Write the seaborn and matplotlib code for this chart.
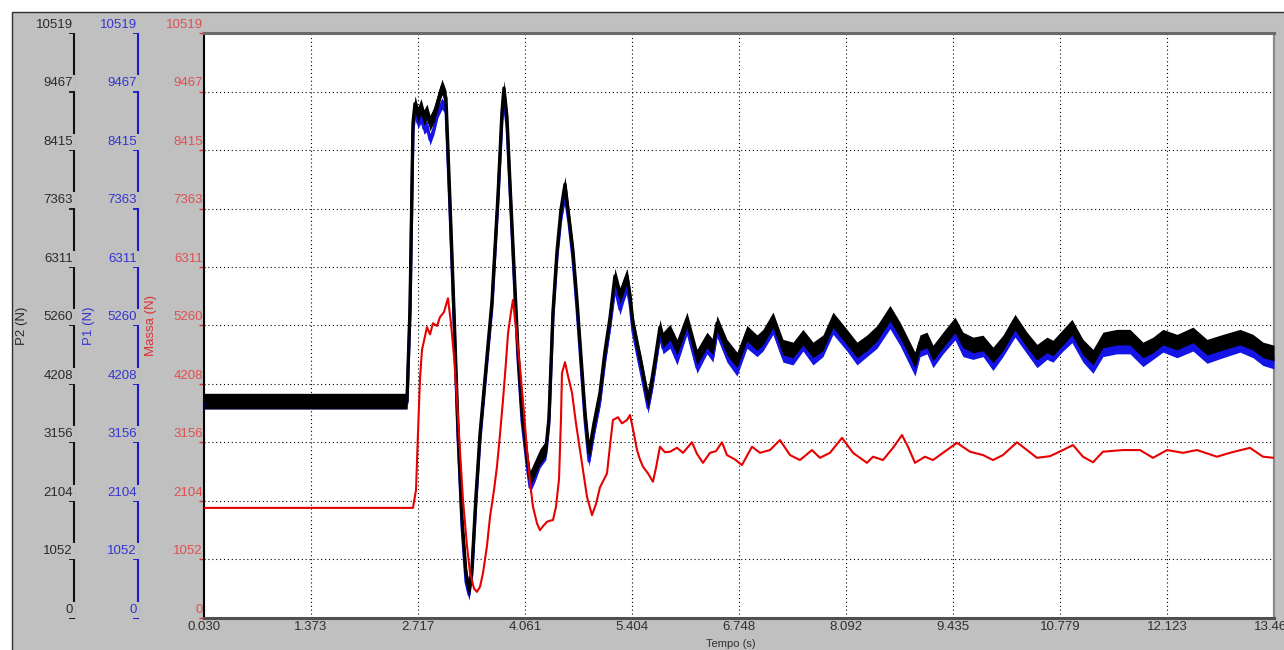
import numpy as np
import matplotlib
matplotlib.use("Agg")
import matplotlib.pyplot as plt
import seaborn as sns
from matplotlib.patches import Rectangle
from matplotlib.transforms import ScaledTranslation
from matplotlib import font_manager

# ---------------- data ----------------
t_p = [0.030, 2.578, 2.616, 2.653, 2.678, 2.716, 2.754, 2.791, 2.829, 2.867,
       2.917, 2.967, 3.017, 3.067, 3.117, 3.168, 3.218, 3.268, 3.318, 3.356,
       3.394, 3.444, 3.494, 3.569, 3.645, 3.720, 3.770, 3.795, 3.833, 3.871,
       3.921, 3.971, 4.021, 4.084, 4.122, 4.184, 4.247, 4.322, 4.360, 4.410,
       4.461, 4.511, 4.561, 4.611, 4.661, 4.712, 4.762, 4.812, 4.862, 4.925,
       5.000, 5.063, 5.126, 5.188, 5.251, 5.301, 5.339, 5.377, 5.414, 5.477,
       5.527, 5.603, 5.653, 5.691, 5.753, 5.791, 5.879, 5.967, 6.092, 6.218,
       6.343, 6.418, 6.469, 6.594, 6.720, 6.845, 6.971, 7.046, 7.172, 7.297,
       7.423, 7.548, 7.674, 7.799, 7.925, 8.100, 8.226, 8.351, 8.477, 8.640,
       8.766, 8.954, 9.017, 9.104, 9.180, 9.305, 9.456, 9.556, 9.682, 9.807,
       9.933, 10.058, 10.209, 10.359, 10.485, 10.610, 10.686, 10.811, 10.924, 11.062,
       11.188, 11.313, 11.489, 11.652, 11.815, 11.941, 12.066, 12.242, 12.443, 12.619,
       12.820, 13.033, 13.196, 13.322, 13.460]

p2 = [3900, 3900, 5600, 8900, 9250, 9050, 9200, 9000, 9100, 8900,
      9050, 9300, 9550, 9350, 7500, 5500, 3400, 1800, 800, 500,
      900, 2200, 3300, 4500, 5700, 7600, 9100, 9530, 9000, 7800,
      6300, 4800, 3700, 2900, 2500, 2700, 2900, 3050, 3600, 5500,
      6600, 7350, 7800, 7200, 6600, 5700, 4700, 3700, 2970, 3500,
      4050, 4800, 5400, 6150, 5800, 6000, 6150, 5800, 5300, 4850,
      4500, 3920, 4300, 4640, 5230, 5000, 5140, 4870, 5360, 4690,
      5000, 4870, 5300, 4870, 4640, 5120, 4950, 5050, 5360, 4870,
      4820, 5050, 4820, 4950, 5360, 5050, 4820, 4950, 5120, 5480,
      5180, 4640, 4950, 5000, 4765, 5000, 5270, 5000, 4910, 4945,
      4730, 4945, 5320, 5000, 4780, 4910, 4855, 5050, 5230, 4870,
      4690, 5000, 5050, 5050, 4820, 4910, 5050, 4960, 5090, 4870,
      4960, 5050, 4960, 4820, 4765]

p1 = [3860, 3860, 5450, 8750, 9100, 8900, 9000, 8800, 8850, 8600,
      8800, 9100, 9250, 9150, 7350, 5350, 3250, 1650, 650, 420,
      800, 2100, 3200, 4400, 5600, 7500, 8950, 9300, 8850, 7700,
      6150, 4650, 3550, 2750, 2350, 2550, 2800, 2950, 3500, 5400,
      6500, 7200, 7600, 7100, 6450, 5550, 4550, 3550, 2820, 3350,
      3900, 4650, 5250, 5950, 5550, 5800, 5950, 5650, 5150, 4700,
      4350, 3780, 4150, 4500, 5100, 4850, 4950, 4650, 5200, 4500,
      4850, 4700, 5150, 4700, 4450, 4950, 4800, 4900, 5200, 4700,
      4650, 4900, 4650, 4800, 5200, 4900, 4650, 4800, 4950, 5300,
      5000, 4450, 4800, 4850, 4600, 4850, 5100, 4800, 4750, 4800,
      4550, 4800, 5150, 4850, 4600, 4750, 4700, 4900, 5050, 4700,
      4500, 4800, 4850, 4850, 4620, 4750, 4880, 4780, 4900, 4680,
      4780, 4880, 4780, 4640, 4580]

ripple_p2 = 140
ripple_p1 = 100

t_m = [0.030, 2.653, 2.691, 2.716, 2.741, 2.766, 2.829, 2.867, 2.904, 2.954,
       2.992, 3.042, 3.092, 3.130, 3.168, 3.205, 3.243, 3.281, 3.331, 3.369,
       3.419, 3.456, 3.494, 3.532, 3.582, 3.620, 3.670, 3.707, 3.745, 3.783,
       3.820, 3.846, 3.883, 3.908, 3.946, 3.996, 4.046, 4.084, 4.122, 4.159,
       4.210, 4.247, 4.285, 4.335, 4.373, 4.410, 4.448, 4.486, 4.511, 4.523,
       4.561, 4.599, 4.649, 4.699, 4.749, 4.799, 4.837, 4.900, 4.950, 5.000,
       5.088, 5.126, 5.163, 5.226, 5.276, 5.339, 5.377, 5.414, 5.465, 5.502,
       5.540, 5.603, 5.665, 5.703, 5.753, 5.816, 5.879, 5.967, 6.042, 6.155,
       6.218, 6.293, 6.381, 6.456, 6.531, 6.594, 6.695, 6.782, 6.908, 7.008,
       7.134, 7.259, 7.385, 7.510, 7.661, 7.761, 7.887, 8.038, 8.176, 8.351,
       8.427, 8.552, 8.678, 8.791, 8.866, 8.954, 9.079, 9.180, 9.305, 9.481,
       9.644, 9.807, 9.933, 10.058, 10.234, 10.485, 10.648, 10.811, 10.937, 11.062,
       11.188, 11.313, 11.564, 11.778, 11.941, 12.117, 12.317, 12.493, 12.744, 12.907,
       13.158, 13.322, 13.460]

massa = [1980, 1980, 2300, 3330, 4300, 4820, 5230, 5100, 5300, 5250,
         5410, 5500, 5750, 5300, 4700, 3920, 3000, 2120, 1300, 810,
         530, 470, 560, 810, 1300, 1820, 2300, 2720, 3300, 3920,
         4600, 5120, 5500, 5720, 5200, 4510, 3700, 3020, 2450, 2000,
         1700, 1580, 1650, 1730, 1750, 1760, 2000, 2500, 3600, 4400,
         4600, 4350, 4050, 3500, 3020, 2550, 2180, 1850, 2050, 2350,
         2600, 3100, 3560, 3610, 3500, 3560, 3650, 3400, 3020, 2850,
         2720, 2600, 2450, 2700, 3080, 2980, 2990, 3060, 2970, 3160,
         2950, 2790, 2970, 3000, 3160, 2930, 2850, 2750, 3080, 2970,
         3020, 3200, 2930, 2840, 3020, 2880, 2970, 3240, 2970, 2790,
         2900, 2840, 3060, 3290, 3080, 2790, 2900, 2840, 2970, 3150,
         2990, 2930, 2840, 2930, 3160, 2880, 2910, 3020, 3110, 2900,
         2800, 2990, 3020, 3020, 2880, 3020, 2970, 3020, 2900, 2970,
         3060, 2900, 2880]

y_ticks = [0, 1052, 2104, 3156, 4208, 5260, 6311, 7363, 8415, 9467, 10519]
x_ticks = [0.030, 1.373, 2.717, 4.061, 5.404, 6.748, 8.092, 9.435, 10.779, 12.123, 13.460]
x_tick_labels = ["0.030", "1.373", "2.717", "4.061", "5.404", "6.748", "8.092",
                 "9.435", "10.779", "12.123", "13.460"]

# ---------------- style ----------------
sns.set_style("white")
avail = {f.name for f in font_manager.fontManager.ttflist}
fams = [f for f in ["Liberation Sans Narrow", "Liberation Sans", "DejaVu Sans"] if f in avail]
plt.rcParams["font.family"] = fams

W, H = 1284, 650
fig = plt.figure(figsize=(W / 100, H / 100), dpi=100, facecolor="white")
fig.patches.append(Rectangle((12 / W, -0.05), 1.2, 1 - 12 / H + 0.05,
                             transform=fig.transFigure, facecolor="#c0c0c0",
                             edgecolor="#303030", linewidth=1.0, zorder=-5))

ax = fig.add_axes([204 / W, 1 - 618 / H, 1070 / W, 585 / H])
ax.set_facecolor("white")
ax_p1 = ax.twinx()
ax_p2 = ax.twinx()

# ---------------- series ----------------
t_p_arr = np.array(t_p)
ax.fill_between(t_p_arr, np.array(p1) - ripple_p1, np.array(p1) + ripple_p1,
                color="#1414e6", linewidth=0, zorder=3)
sns.lineplot(x=t_p, y=p1, ax=ax, color="#1414e6", linewidth=2.2,
             estimator=None, sort=False, zorder=3)
ax.fill_between(t_p_arr, np.array(p2) - ripple_p2, np.array(p2) + ripple_p2,
                color="black", linewidth=0, zorder=4)
sns.lineplot(x=t_p, y=p2, ax=ax, color="black", linewidth=2.4,
             estimator=None, sort=False, zorder=4)
sns.lineplot(x=t_m, y=massa, ax=ax, color="#e80000", linewidth=1.5,
             estimator=None, sort=False, zorder=5)

# ---------------- axes ----------------
fs = 9.5
for a in (ax, ax_p1, ax_p2):
    a.set_ylim(0, 10519)
    a.set_yticks(y_ticks)
    a.set_yticklabels([str(v) for v in y_ticks])
ax.set_xlim(0.030, 13.460)
ax.set_xticks(x_ticks)
ax.set_xticklabels(x_tick_labels)

ax.grid(True, color="black", linestyle=(0, (1, 2.5)), linewidth=0.8)
ax.set_axisbelow(True)

for side, col, lw in (("left", "#000000", 1.5), ("bottom", "#505050", 2.2),
                      ("top", "#6a6a6a", 2.2), ("right", "#8a8a8a", 1.6)):
    ax.spines[side].set_visible(True)
    ax.spines[side].set_color(col)
    ax.spines[side].set_linewidth(lw)

ax.tick_params(axis="x", length=0, pad=2.5, labelsize=fs, labelcolor="#303030")
ax.tick_params(axis="y", left=True, right=False, direction="out", length=3.8,
               width=1.0, color="#e03030", labelcolor="#e05050", labelsize=fs, pad=-3.0)
ax.set_xlabel("Tempo (s)", fontsize=8, color="#303030")
ax.xaxis.set_label_coords((731 - 204) / 1070, -0.036)
ax.set_ylabel("Massa (N)", fontsize=fs, color="#e03030")
ax.yaxis.set_label_coords((157 - 204) / 1070, 0.5)

up = ScaledTranslation(0, 1.5 / 72, fig.dpi_scale_trans)
for lbl in ax.get_yticklabels():
    lbl.set_va("bottom")
    lbl.set_transform(lbl.get_transform() + up)

for a, col, lcol, off, name, lx in ((ax_p1, "#1a1acc", "#3535d0", 66, "P1 (N)", 95),
                                   (ax_p2, "#111111", "#2a2a2a", 130, "P2 (N)", 28)):
    a.grid(False)
    a.patch.set_visible(False)
    for s in ("top", "right", "bottom"):
        a.spines[s].set_visible(False)
    a.yaxis.set_ticks_position("left")
    a.yaxis.set_label_position("left")
    a.spines["left"].set_visible(True)
    a.spines["left"].set_position(("outward", off * 72 / 100))
    a.spines["left"].set_color(col)
    a.spines["left"].set_linewidth(1.5)
    a.spines["left"].set_zorder(1)
    a.set_axisbelow(False)
    a.tick_params(axis="y", left=True, right=False, direction="out", length=3.8,
                  width=1.3, color=col, labelcolor=lcol, labelsize=fs, pad=-3.0)
    for lbl in a.get_yticklabels():
        lbl.set_va("bottom")
        lbl.set_transform(lbl.get_transform() + up)
        lbl.set_bbox(dict(boxstyle="square,pad=0.15", facecolor="#c0c0c0", edgecolor="none"))
    a.set_ylabel(name, fontsize=fs, color=lcol)
    a.yaxis.set_label_coords((lx - 204) / 1070, 0.5)

fig.savefig("out.png", dpi=100, facecolor=fig.get_facecolor())
